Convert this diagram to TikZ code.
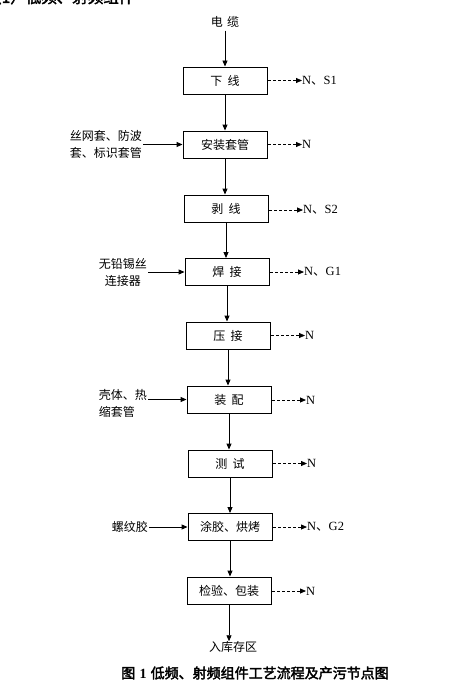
\documentclass[tikz,border=0pt]{standalone}
\usepackage{fontspec}
\setmainfont{Liberation Serif}
\newfontfamily\cjk[AutoFakeBold=2.5]{Noto Sans CJK SC}
\usetikzlibrary{arrows.meta}
\tikzset{
  x=1pt, y=-1pt,
  stepbox/.style={draw, line width=0.9pt, minimum width=84pt, minimum height=27pt, inner sep=0pt, font=\cjk\fontsize{12}{14}\selectfont},
  flow/.style={line width=0.9pt, -{Triangle[length=6pt,width=5pt]}},
  outflow/.style={line width=0.8pt, dash pattern=on 3pt off 2pt, -{Triangle[length=6pt,width=5pt]}},
  outlbl/.style={anchor=west, inner sep=0pt, font=\fontsize{12.5}{14}\selectfont},
  inlbl/.style={anchor=east, inner sep=1pt, font=\cjk\fontsize{12}{17}\selectfont},
  plain/.style={inner sep=0pt, font=\cjk\fontsize{12}{14}\selectfont}
}
\newcommand{\dun}{{\cjk 、}}
\begin{document}
\begin{tikzpicture}
\clip (0,0) rectangle (461,693);
\fill[white] (0,0) rectangle (461,693);
% cut heading
\node[anchor=west, inner sep=0pt, font=\cjk\bfseries\fontsize{15.5}{16}\selectfont] (head) at (-14,-3) {（1）低频、射频组件};
% top input
\node[plain] (cable) at (225,22) {电\hspace{0.35em}缆};
% boxes
\node[stepbox] (b1) at (225,80.5) {下\hspace{0.45em}线};
\node[stepbox] (b2) at (225,144.5) {安装套管};
\node[stepbox] (b3) at (226,208.5) {剥\hspace{0.45em}线};
\node[stepbox] (b4) at (227,272) {焊\hspace{0.45em}接};
\node[stepbox] (b5) at (228,335.5) {压\hspace{0.45em}接};
\node[stepbox] (b6) at (229,399.5) {装\hspace{0.45em}配};
\node[stepbox] (b7) at (230,463.5) {测\hspace{0.45em}试};
\node[stepbox] (b8) at (230,527) {涂胶、烘烤};
\node[stepbox] (b9) at (229,590.5) {检验、包装};
\node[plain] (store) at (233,647) {入库存区};
% main flow
\draw[flow] (cable.south) ++(0,3) coordinate (c0) -- (c0 |- b1.north);
\draw[flow] (b1.south) -- (b1.south |- b2.north);
\draw[flow] (b2.south) -- (b2.south |- b3.north);
\draw[flow] (b3.south) -- (b3.south |- b4.north);
\draw[flow] (b4.south) -- (b4.south |- b5.north);
\draw[flow] (b5.south) -- (b5.south |- b6.north);
\draw[flow] (b6.south) -- (b6.south |- b7.north);
\draw[flow] (b7.south) -- (b7.south |- b8.north);
\draw[flow] (b8.south) -- (b8.south |- b9.north);
\draw[flow] (b9.south) -- (b9.south |- store.north);
% outputs
\node[outlbl] (o1) at (302,80.5) {N\dun S1};
\node[outlbl] (o2) at (302,144.5) {N};
\node[outlbl] (o3) at (303,210) {N\dun S2};
\node[outlbl] (o4) at (304,272) {N\dun G1};
\node[outlbl] (o5) at (305,335.5) {N};
\node[outlbl] (o6) at (306,400) {N};
\node[outlbl] (o7) at (307,463.5) {N};
\node[outlbl] (o8) at (307,527) {N\dun G2};
\node[outlbl] (o9) at (306,591) {N};
\foreach \i in {1,...,9} {
  \draw[outflow] ([xshift=1pt]b\i.east |- o\i.west) -- (o\i.west);
}
% inputs
\node[inlbl, align=left] (i1) at (143,144.5) {丝网套、防波\\套、标识套管};
\node[inlbl, align=center] (i2) at (148,272) {无铅锡丝\\连接器};
\node[inlbl, align=left] (i3) at (148,403) {壳体、热\\缩套管};
\node[inlbl] (i4) at (149,527) {螺纹胶};
\draw[flow] (i1.east) -- (b2.west);
\draw[flow] (i2.east) -- (b4.west);
\draw[flow] (i3.east |- b6.west) -- (b6.west);
\draw[flow] (i4.east) -- (b8.west);
% caption
\node[inner sep=0pt, font=\cjk\bfseries\fontsize{14}{16}\selectfont] (cap) at (255,673) {图\hspace{0.3em}{\rmfamily\bfseries 1}\hspace{0.3em}低频、射频组件工艺流程及产污节点图};
\end{tikzpicture}
\end{document}
